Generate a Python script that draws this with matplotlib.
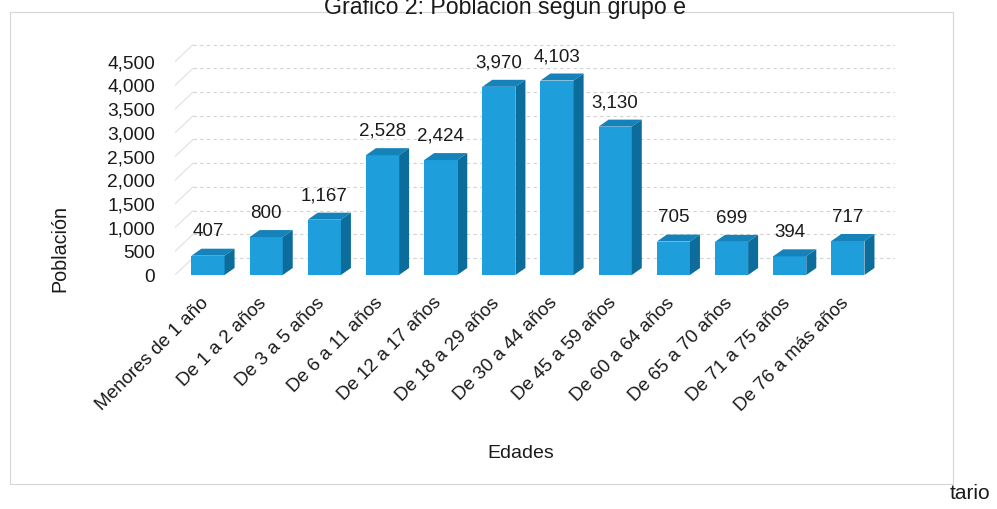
import matplotlib
matplotlib.use('Agg')
import matplotlib.pyplot as plt
import matplotlib.transforms as mtransforms
from matplotlib.patches import Polygon, Rectangle

plt.rcParams['font.family'] = ['Liberation Sans', 'DejaVu Sans']

# datos del gráfico
edades = ['Menores de 1 año', 'De 1 a 2 años', 'De 3 a 5 años', 'De 6 a 11 años',
          'De 12 a 17 años', 'De 18 a 29 años', 'De 30 a 44 años', 'De 45 a 59 años',
          'De 60 a 64 años', 'De 65 a 70 años', 'De 71 a 75 años', 'De 76 a más años']
poblacion = [407, 800, 1167, 2528, 2424, 3970, 4103, 3130, 705, 699, 394, 717]
yticks = [0, 500, 1000, 1500, 2000, 2500, 3000, 3500, 4000, 4500]

texto = '#1a1a1a'
frente, techo, lado = '#1E9FDB', '#1682BA', '#0C6C9C'

fig = plt.figure(figsize=(9.97, 5.09), dpi=100)
ax = fig.add_axes([175 / 997, 1 - 275 / 509, 720 / 997, 237 / 509])
xs = list(range(len(edades)))
x_izq, x_der = -0.567, 11.81
ax.set_xlim(x_izq, x_der)
ax.set_ylim(0, 5000)
for s in ax.spines.values():
    s.set_visible(False)

# pared del fondo (efecto 3D)
px, py = 0.31, 360
for t in yticks:
    ax.plot([x_izq + px, x_der], [t + py, t + py], color='#d2d2d2', lw=0.8,
            ls=(0, (3, 3)), zorder=1)
    ax.plot([x_izq, x_izq + px], [t, t + py], color='#e0e0e0', lw=0.8, zorder=1)

# barras 3D: cara frontal con ax.bar, techo y lado a partir de cada barra
dx, dy = 0.172, 148
barras = ax.bar(xs, poblacion, width=0.57, color=frente, zorder=3)
for b in barras:
    x0, w, h = b.get_x(), b.get_width(), b.get_height()
    ax.add_patch(Polygon([(x0, h), (x0 + w, h), (x0 + w + dx, h + dy), (x0 + dx, h + dy)],
                         closed=True, facecolor=techo, edgecolor='none', zorder=3))
    ax.add_patch(Polygon([(x0 + w, 0), (x0 + w + dx, dy), (x0 + w + dx, h + dy), (x0 + w, h)],
                         closed=True, facecolor=lado, edgecolor='none', zorder=3))
    ax.annotate(f'{h:,.0f}', (x0 + w / 2, h + dy), xytext=(0, 6), textcoords='offset points',
                ha='center', va='bottom', fontsize=13.5, color=texto)

ax.set_yticks(yticks, [f'{t:,}' for t in yticks])
ax.tick_params(axis='y', length=0, pad=14.4, labelsize=13.8, labelcolor=texto)
ax.set_xticks(xs, edades, rotation=45, ha='right', va='top', rotation_mode='anchor')
ax.tick_params(axis='x', length=0, pad=14, labelsize=13.6, labelcolor=texto)
desplaza = mtransforms.ScaledTranslation(-8 / 100, 0, fig.dpi_scale_trans)
for lab in ax.get_xticklabels():
    lab.set_transform(lab.get_transform() + desplaza)

fig.text(60 / 997, 1 - 248 / 509, 'Población', rotation=90, ha='center', va='center',
         fontsize=14.2, color=texto)
fig.text(521 / 997, 1 - 454 / 509, 'Edades', ha='center', va='center', fontsize=14, color=texto)
fig.text(505 / 997, 1 - 14 / 509, 'Gráfico 2: Población según grupo e', ha='center',
         va='baseline', fontsize=16.7, color=texto)
fig.text(950 / 997, 1 - 499 / 509, 'tario', ha='left', va='baseline', fontsize=15, color=texto)

fig.add_artist(Rectangle((10 / 997, 1 - 484 / 509), 943 / 997, 472 / 509,
                         transform=fig.transFigure, fill=False, edgecolor='#d6d6d6', lw=0.8))

fig.savefig('out.png', dpi=100)
